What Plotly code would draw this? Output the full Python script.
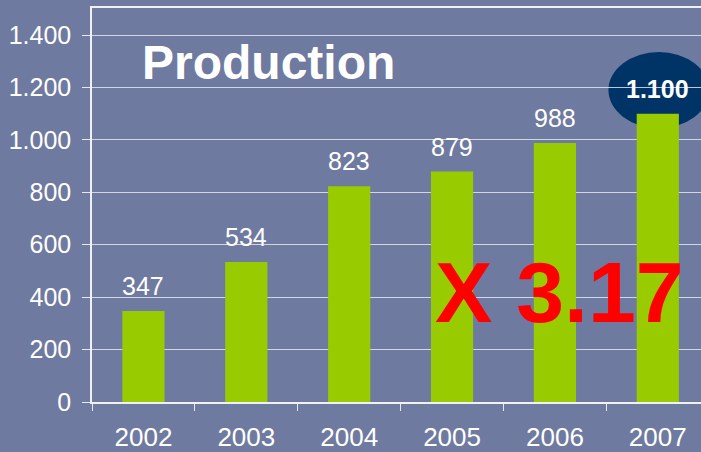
import plotly.graph_objects as go

years = ["2002", "2003", "2004", "2005", "2006", "2007"]
production = [347, 534, 823, 879, 988, 1100]
value_labels = ["347", "534", "823", "879", "988", "1.100"]
y_ticks = [0, 200, 400, 600, 800, 1000, 1200, 1400]
y_tick_labels = ["0", "200", "400", "600", "800", "1.000", "1.200", "1.400"]

BG = "#6F7AA1"
FONT = "Liberation Sans, Arial, sans-serif"

fig = go.Figure()
fig.add_trace(go.Bar(x=years, y=production, marker_color="#99CC00",
                     marker_line_width=0, width=0.41, hoverinfo="skip"))

annotations = []
for i, (v, lab) in enumerate(zip(production, value_labels)):
    last = i == len(production) - 1
    annotations.append(dict(
        x=i, y=v, xref="x", yref="y", text=("<b>%s</b>" % lab) if last else lab,
        showarrow=False, yanchor="bottom", yshift=9,
        font=dict(family=FONT, size=25, color="white")))

annotations.append(dict(x=0.29, y=0.862, xref="paper", yref="paper",
                        text="<b>Production</b>", showarrow=False,
                        xanchor="center", yanchor="middle",
                        font=dict(family=FONT, size=48, color="white")))
annotations.append(dict(x=4.045, y=418, xref="x", yref="y",
                        text="<b>X 3.17</b>", showarrow=False,
                        xanchor="center", yanchor="middle",
                        font=dict(family=FONT, size=86, color="#FF0000")))

fig.update_layout(
    width=701, height=452,
    margin=dict(l=92, r=0, t=8, b=50),
    paper_bgcolor=BG, plot_bgcolor=BG,
    showlegend=False,
    annotations=annotations,
    shapes=[dict(type="circle", xref="x", yref="y", x0=4.52, x1=5.50,
                 y0=1045, y1=1335, fillcolor="#003366", line_width=0,
                 layer="below")],
    font=dict(family=FONT, color="white"),
)
fig.update_xaxes(type="category", range=[-0.5, 5.42], showgrid=False, showline=True,
                 linecolor="#F0F0F5", linewidth=1.5, mirror=True,
                 ticks="outside", ticklen=7, tickcolor="#E8E8F0",
                 tickson="boundaries", ticklabelstandoff=11, automargin=False,
                 tickfont=dict(family=FONT, size=26, color="white"))
fig.update_yaxes(range=[0, 1503], tickvals=y_ticks, ticktext=y_tick_labels,
                 showgrid=True, gridcolor="rgba(235,237,245,0.8)", gridwidth=1.2,
                 showline=True, linecolor="#F0F0F5", linewidth=1.5,
                 ticks="outside", ticklen=8, tickcolor="#E8E8F0",
                 zeroline=False, ticklabelstandoff=6, automargin=False,
                 tickfont=dict(family=FONT, size=25, color="white"))

fig.write_html("out.html", config={"displayModeBar": False},
               post_script="document.body.style.margin='0';")
